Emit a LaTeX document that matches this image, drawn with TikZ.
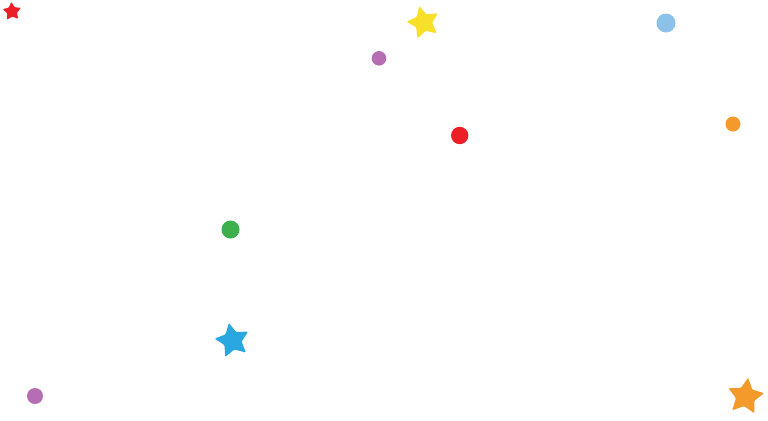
\documentclass[tikz,border=0pt]{standalone}
\usetikzlibrary{shapes.geometric}
\definecolor{confred}{HTML}{EC1F27}
\definecolor{confyellow}{HTML}{F8E02A}
\definecolor{confpurple}{HTML}{B56DB4}
\definecolor{confsky}{HTML}{8CC2EA}
\definecolor{conforange}{HTML}{F39A2A}
\definecolor{confgreen}{HTML}{3DB04B}
\definecolor{confblue}{HTML}{29A8E0}
\begin{document}
\begin{tikzpicture}[x=0.02cm, y=0.02cm]
\tikzstyle{every node}+=[inner sep=0pt]
\tikzstyle{confstar}=[star, star points=5, star point ratio=1.95, rounded corners=0.6pt]
\useasboundingbox (0,0) rectangle (768,-420);
\fill [white] (0,0) rectangle (768,-420);
\node [confstar, fill=confred, minimum size=0.39cm, rotate=4] (redstar) at (12,-11.5) {};
\node [confstar, fill=confyellow, minimum size=0.68cm, rotate=15] (yellowstar) at (423.5,-22.5) {};
\node [confstar, fill=confblue, minimum size=0.72cm, rotate=12] (bluestar) at (232.5,-340.5) {};
\node [confstar, fill=conforange, minimum size=0.76cm, rotate=-8] (orangestar) at (745.5,-396.5) {};
\fill [confpurple] (379,-58.3) circle (7.3);
\fill [confred] (459.7,-135.5) circle (8.7);
\fill [confsky] (666,-23) circle (9.5);
\fill [conforange] (733,-124) circle (7.5);
\fill [confgreen] (230.5,-229.5) circle (9);
\fill [confpurple] (35,-396) circle (8);
\end{tikzpicture}
\end{document}
